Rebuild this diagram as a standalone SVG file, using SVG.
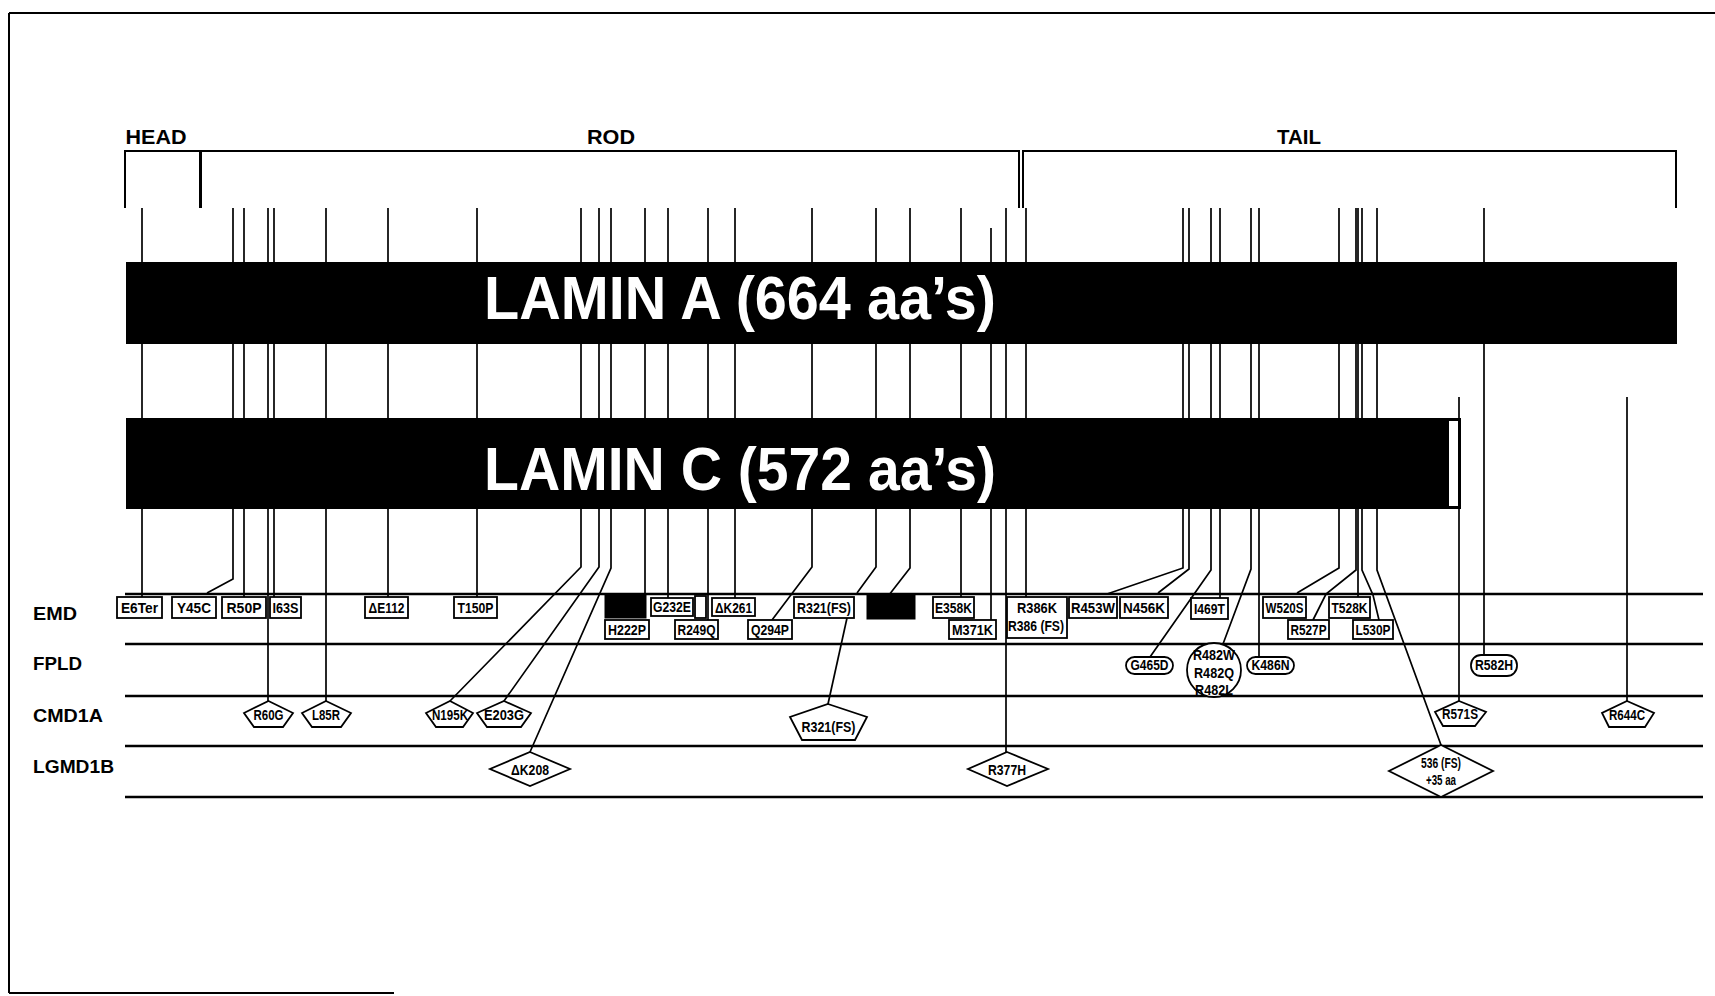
<svg xmlns="http://www.w3.org/2000/svg" width="1715" height="996" viewBox="0 0 1715 996">
<style>
.frame{fill:none;stroke:#000;stroke-width:2}
.br{fill:none;stroke:#000;stroke-width:2}
.row{fill:none;stroke:#000;stroke-width:2.5}
.cn{fill:none;stroke:#000;stroke-width:1.7}
.bx{fill:#fff;stroke:#000;stroke-width:1.8}
.blk{fill:#000;stroke:#000;stroke-width:1}
.t{font-family:"Liberation Sans",Arial,sans-serif;font-weight:bold;font-size:14px;text-anchor:middle;fill:#000}
.hd{font-family:"Liberation Sans",Arial,sans-serif;font-weight:bold;font-size:21px;text-anchor:middle;fill:#000}
.rl{font-family:"Liberation Sans",Arial,sans-serif;font-weight:bold;font-size:19px;fill:#000}
.bar{font-family:"Liberation Sans",Arial,sans-serif;font-weight:bold;font-size:62px;fill:#fff}
</style>
<rect x="0" y="0" width="1715" height="996" fill="#fff"/>
<g id="frame">
<path class="frame" d="M9 13 H1715 M9 13 V993 M9 993 H394"/>
</g>
<g id="domains">
<path class="br" d="M125 208 V151 H200 V208"/>
<path class="br" d="M201 208 V151 H1019 V208"/>
<path class="br" d="M1023 208 V151 H1676 V208"/>
<text class="hd" x="156" y="144" textLength="61" lengthAdjust="spacingAndGlyphs">HEAD</text>
<text class="hd" x="611" y="144" textLength="48" lengthAdjust="spacingAndGlyphs">ROD</text>
<text class="hd" x="1299" y="144" textLength="44" lengthAdjust="spacingAndGlyphs">TAIL</text>
</g>
<g id="rows">
<path class="row" d="M125 594 H1703 M125 644 H1703 M125 696 H1703 M125 746 H1703 M125 797 H1703"/>
<text class="rl" x="33" y="620" textLength="44" lengthAdjust="spacingAndGlyphs">EMD</text>
<text class="rl" x="33" y="670" textLength="49" lengthAdjust="spacingAndGlyphs">FPLD</text>
<text class="rl" x="33" y="722" textLength="70" lengthAdjust="spacingAndGlyphs">CMD1A</text>
<text class="rl" x="33" y="773" textLength="81" lengthAdjust="spacingAndGlyphs">LGMD1B</text>
</g>
<g id="connectors">
<path class="cn" d="M142 208 V597"/>
<path class="cn" d="M233 208 V579 L207 593"/>
<path class="cn" d="M244 208 V597"/>
<path class="cn" d="M268 208 V701"/>
<path class="cn" d="M274 208 V597"/>
<path class="cn" d="M326 208 V701"/>
<path class="cn" d="M388 208 V597"/>
<path class="cn" d="M477 208 V597"/>
<path class="cn" d="M581 208 V567 L450 701"/>
<path class="cn" d="M599 208 V567 L504 701"/>
<path class="cn" d="M611 208 V568 L530 752"/>
<path class="cn" d="M645 208 V595"/>
<path class="cn" d="M668 208 V598"/>
<path class="cn" d="M708 208 V620"/>
<path class="cn" d="M735 208 V598"/>
<path class="cn" d="M812 208 V567 L772 620"/>
<path class="cn" d="M876 208 V567 L857 593"/>
<path class="cn" d="M847 618 L828 704"/>
<path class="cn" d="M910 208 V568 L889 595"/>
<path class="cn" d="M961 208 V597"/>
<path class="cn" d="M991 228 V620"/>
<path class="cn" d="M1006 208 V752"/>
<path class="cn" d="M1026 208 V597"/>
<path class="cn" d="M1183 208 V568 L1107 594"/>
<path class="cn" d="M1189 208 V569 L1158 593"/>
<path class="cn" d="M1211 208 V570 L1150 657"/>
<path class="cn" d="M1220 208 V598"/>
<path class="cn" d="M1251 208 V569 L1223 644"/>
<path class="cn" d="M1259 208 V657"/>
<path class="cn" d="M1339 208 V568 L1297 593"/>
<path class="cn" d="M1356 208 V570 L1326 594 L1313 620"/>
<path class="cn" d="M1358 208 V597"/>
<path class="cn" d="M1362 208 V570 L1373 595 L1379 620"/>
<path class="cn" d="M1377 208 V570 L1441 745"/>
<path class="cn" d="M1459 397 V701"/>
<path class="cn" d="M1484 208 V655"/>
<path class="cn" d="M1627 397 V701"/>
</g>
<g id="laminA">
<rect x="126" y="262" width="1551" height="82" fill="#000"/>
<text class="bar" x="484" y="319" textLength="512" lengthAdjust="spacingAndGlyphs">LAMIN A (664 aa’s)</text>
</g>
<g id="laminC">
<rect x="126" y="418" width="1335" height="91" fill="#000"/>
<rect x="1449" y="421" width="9" height="85" fill="#fff"/>
<text class="bar" x="484" y="490" textLength="512" lengthAdjust="spacingAndGlyphs">LAMIN C (572 aa’s)</text>
</g>
<g id="E6Ter"><rect class="bx" x="117" y="597" width="45" height="21"/><text class="t" x="139.5" y="613" textLength="37" lengthAdjust="spacingAndGlyphs">E6Ter</text></g>
<g id="Y45C"><rect class="bx" x="172" y="597" width="44" height="21"/><text class="t" x="194" y="613" textLength="34" lengthAdjust="spacingAndGlyphs">Y45C</text></g>
<g id="R50P"><rect class="bx" x="222" y="597" width="44" height="21"/><text class="t" x="244" y="613" textLength="35" lengthAdjust="spacingAndGlyphs">R50P</text></g>
<g id="I63S"><rect class="bx" x="270" y="597" width="31" height="21"/><text class="t" x="285.5" y="613" textLength="26" lengthAdjust="spacingAndGlyphs">I63S</text></g>
<g id="dE112"><rect class="bx" x="365" y="597" width="43" height="21"/><text class="t" x="386.5" y="613" textLength="36" lengthAdjust="spacingAndGlyphs">ΔE112</text></g>
<g id="T150P"><rect class="bx" x="454" y="597" width="43" height="21"/><text class="t" x="475.5" y="613" textLength="36" lengthAdjust="spacingAndGlyphs">T150P</text></g>
<g id="blk1"><rect class="blk" x="605" y="595" width="41" height="23"/></g>
<g id="G232E"><rect class="bx" x="651" y="598" width="42" height="18"/><text class="t" x="672" y="612" textLength="38" lengthAdjust="spacingAndGlyphs">G232E</text></g>
<g id="empty1"><rect class="bx" x="695" y="596" width="11" height="22"/></g>
<g id="dK261"><rect class="bx" x="712" y="598" width="43" height="18"/><text class="t" x="733.5" y="613" textLength="37" lengthAdjust="spacingAndGlyphs">ΔK261</text></g>
<g id="R321FS"><rect class="bx" x="794" y="597" width="60" height="21"/><text class="t" x="824" y="613" textLength="54" lengthAdjust="spacingAndGlyphs">R321(FS)</text></g>
<g id="blk2"><rect class="blk" x="867" y="595" width="48" height="24"/></g>
<g id="E358K"><rect class="bx" x="933" y="597" width="41" height="21"/><text class="t" x="953.5" y="613" textLength="37" lengthAdjust="spacingAndGlyphs">E358K</text></g>
<g id="R386K"><rect class="bx" x="1007" y="597" width="60" height="41"/><text class="t" x="1037" y="613" textLength="40" lengthAdjust="spacingAndGlyphs">R386K</text><text class="t" x="1036" y="631" textLength="56" lengthAdjust="spacingAndGlyphs">R386 (FS)</text></g>
<g id="R453W"><rect class="bx" x="1069" y="597" width="48" height="21"/><text class="t" x="1093" y="613" textLength="44" lengthAdjust="spacingAndGlyphs">R453W</text></g>
<g id="N456K"><rect class="bx" x="1120" y="597" width="48" height="21"/><text class="t" x="1144" y="613" textLength="42" lengthAdjust="spacingAndGlyphs">N456K</text></g>
<g id="I469T"><rect class="bx" x="1191" y="598" width="37" height="21"/><text class="t" x="1209.5" y="614" textLength="31" lengthAdjust="spacingAndGlyphs">I469T</text></g>
<g id="W520S"><rect class="bx" x="1263" y="597" width="43" height="21"/><text class="t" x="1284.5" y="613" textLength="38" lengthAdjust="spacingAndGlyphs">W520S</text></g>
<g id="T528K"><rect class="bx" x="1329" y="597" width="41" height="21"/><text class="t" x="1349.5" y="613" textLength="36" lengthAdjust="spacingAndGlyphs">T528K</text></g>
<g id="H222P"><rect class="bx" x="605" y="620" width="44" height="19"/><text class="t" x="627" y="635" textLength="38" lengthAdjust="spacingAndGlyphs">H222P</text></g>
<g id="R249Q"><rect class="bx" x="675" y="620" width="43" height="19"/><text class="t" x="696.5" y="635" textLength="38" lengthAdjust="spacingAndGlyphs">R249Q</text></g>
<g id="Q294P"><rect class="bx" x="748" y="620" width="44" height="19"/><text class="t" x="770" y="635" textLength="38" lengthAdjust="spacingAndGlyphs">Q294P</text></g>
<g id="M371K"><rect class="bx" x="949" y="620" width="47" height="19"/><text class="t" x="972.5" y="635" textLength="41" lengthAdjust="spacingAndGlyphs">M371K</text></g>
<g id="R527P"><rect class="bx" x="1288" y="620" width="41" height="19"/><text class="t" x="1308.5" y="635" textLength="36" lengthAdjust="spacingAndGlyphs">R527P</text></g>
<g id="L530P"><rect class="bx" x="1353" y="620" width="40" height="19"/><text class="t" x="1373" y="635" textLength="35" lengthAdjust="spacingAndGlyphs">L530P</text></g>
<g id="G465D"><rect class="bx" x="1126" y="657" width="47" height="17" rx="8.5"/><text class="t" x="1149.5" y="670" font-size="13" textLength="38" lengthAdjust="spacingAndGlyphs">G465D</text></g>
<g id="R482"><ellipse class="bx" cx="1214" cy="670" rx="27" ry="27"/><text class="t" x="1214" y="660" textLength="42" lengthAdjust="spacingAndGlyphs">R482W</text><text class="t" x="1214" y="678" textLength="40" lengthAdjust="spacingAndGlyphs">R482Q</text><text class="t" x="1214" y="695" textLength="38" lengthAdjust="spacingAndGlyphs">R482L</text></g>
<g id="K486N"><rect class="bx" x="1247" y="657" width="47" height="17" rx="8.5"/><text class="t" x="1270.5" y="670" font-size="13" textLength="38" lengthAdjust="spacingAndGlyphs">K486N</text></g>
<g id="R582H"><rect class="bx" x="1471" y="655" width="46" height="21" rx="10"/><text class="t" x="1494" y="670" textLength="38" lengthAdjust="spacingAndGlyphs">R582H</text></g>
<g id="R60G"><polygon class="bx" points="268.5,701 293,713 283,727 254,727 244,713"/><text class="t" x="268.5" y="720" textLength="30" lengthAdjust="spacingAndGlyphs">R60G</text></g>
<g id="L85R"><polygon class="bx" points="326,701 351,713 341,727 312,727 302,713"/><text class="t" x="326" y="720" textLength="28" lengthAdjust="spacingAndGlyphs">L85R</text></g>
<g id="N195K"><polygon class="bx" points="450,701 473,713 463,727 436,727 426,713"/><text class="t" x="450" y="720" textLength="36" lengthAdjust="spacingAndGlyphs">N195K</text></g>
<g id="E203G"><polygon class="bx" points="504,701 531,713 521,727 487,727 477,713"/><text class="t" x="504" y="720" textLength="40" lengthAdjust="spacingAndGlyphs">E203G</text></g>
<g id="R321FS_c"><polygon class="bx" points="828,704 867,717 855,740 802,740 790,717"/><text class="t" x="828.5" y="732" textLength="54" lengthAdjust="spacingAndGlyphs">R321(FS)</text></g>
<g id="R571S"><polygon class="bx" points="1459,701 1486,712 1475,726 1443,726 1435,712"/><text class="t" x="1460" y="719" textLength="36" lengthAdjust="spacingAndGlyphs">R571S</text></g>
<g id="R644C"><polygon class="bx" points="1627,701 1654,713 1645,727 1609,727 1602,713"/><text class="t" x="1627" y="720" textLength="36" lengthAdjust="spacingAndGlyphs">R644C</text></g>
<g id="dK208"><polygon class="bx" points="530,752 570,769 530,786 490,769"/><text class="t" x="530" y="775" textLength="38" lengthAdjust="spacingAndGlyphs">ΔK208</text></g>
<g id="R377H"><polygon class="bx" points="1007,752 1048,769 1007,786 968,769"/><text class="t" x="1007" y="775" textLength="38" lengthAdjust="spacingAndGlyphs">R377H</text></g>
<g id="FS536"><polygon class="bx" points="1441,745 1493,771 1441,797 1389,771"/><text class="t" x="1441" y="768" textLength="40" lengthAdjust="spacingAndGlyphs">536 (FS)</text><text class="t" x="1441" y="785" textLength="30" lengthAdjust="spacingAndGlyphs">+35 aa</text></g>
</svg>
